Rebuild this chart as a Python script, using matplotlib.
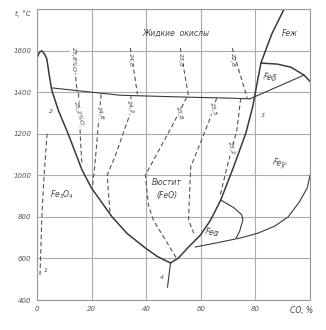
"""Fe-O-CO equilibrium diagram (t vs CO %), redrawn from a scan."""

import matplotlib
matplotlib.use("Agg")
import matplotlib.pyplot as plt

# --- data (x = CO, %, y = t, degC)

# Fe3O4 / FeO boundary, from the melting peak down to the 570 point
left_x = [0.2, 0.9, 1.7, 2.7, 3.6, 4.5, 5.4, 7.8, 11.4, 16.5, 20.0, 27.5, 33.0, 39.7, 44.0, 48.9]
left_t = [1570, 1592, 1599, 1585, 1560, 1480, 1410, 1313, 1200, 1025, 938, 800, 720, 650, 610, 578]

# FeO / Fe boundary, from the 570 point up to the top
right_x = [48.9, 51.8, 55.5, 59.9, 63.6, 67.3, 72.0, 76.5, 79.0, 82.0, 86.0, 90.5]
right_t = [578, 602, 655, 713, 785, 881, 1040, 1203, 1330, 1540, 1680, 1800]

# liquidus of the oxides
liq_x = [5.8, 30.5, 55.0, 71.0, 78.0]
liq_t = [1420, 1385, 1376, 1371, 1368]

# delta-iron field
delta_low_x = [78.0, 97.8]
delta_low_t = [1368, 1482]
delta_top_x = [82.0, 88.0, 93.0, 97.8, 100.0]
delta_top_t = [1540, 1535, 1520, 1482, 1452]

# alpha / gamma line
ag_x = [58.0, 67.0, 75.0, 81.0, 87.0, 92.0, 96.0, 99.0, 100.0]
ag_t = [655, 678, 700, 722, 755, 800, 870, 940, 1000]

# short bulge on the gamma side
bulge_x = [67.3, 72.0, 75.0, 75.4, 74.2, 73.0]
bulge_t = [881, 845, 810, 785, 730, 700]

# stem below the 570 point
stem_x = [48.9, 47.8]
stem_t = [578, 462]

# Fe2O3 / Fe3O4 boundary (dashed)
hem_x = [3.7, 2.6, 1.8, 1.1]
hem_t = [1200, 1000, 808, 520]

# iso-oxygen lines in the liquid
liq_iso_x = [[13.2, 14.7], [34.2, 36.8], [52.5, 55.5], [71.5, 77.0]]
liq_iso_t = [[1612, 1400], [1612, 1390], [1612, 1380], [1612, 1372]]
liq_iso_lab = ["25,8%O", "24,8", "23,8", "22,8"]

# iso-oxygen lines in wustite
w_x = [
    [15.2, 15.5, 16.0, 16.5],
    [23.5, 22.5, 21.2, 20.2],
    [34.4, 34.2, 28.7, 25.7, 26.8],
    [54.8, 50.0, 39.7, 40.8, 42.6, 51.5],
    [65.8, 63.6, 56.3, 55.5, 57.4],
    [74.6, 73.2, 70.0, 67.0],
]
w_t = [
    [1395, 1300, 1150, 1050],
    [1390, 1250, 1050, 935],
    [1380, 1300, 1095, 1000, 808],
    [1375, 1250, 1001, 857, 785, 592],
    [1372, 1280, 1040, 785, 722],
    [1370, 1217, 1060, 900],
]
w_lab = ["25,2%O", "24,8", "24,2", "23,8", "23,5", "23,2"]
w_lab_pos = [(15.3, 1300), (23.0, 1300), (34.3, 1330), (52.0, 1300), (64.5, 1320), (71.0, 1130)]

ticks_x = [0, 20, 40, 60, 80]
ticks_t = [400, 600, 800, 1000, 1200, 1400, 1600]

# --- plot

ink = "#3a3a3a"
fig = plt.figure(figsize=(3.26, 3.30), dpi=100)
ax = fig.add_axes([0.1135, 0.0909, 0.8375, 0.8818])
ax.set_xlim(0, 100)
ax.set_ylim(400, 1800)

# grid
for v in [0, 20, 40, 60, 80, 100]:
    ax.axvline(v, color="#ababab", lw=0.8, zorder=0)
for v in ticks_t + [1800]:
    ax.axhline(v, color="#ababab", lw=0.8, zorder=0)

solid = dict(color=ink, lw=1.1, solid_capstyle="round")
thin = dict(color=ink, lw=0.8)
dash = dict(color="#555555", lw=0.8, ls=(0, (4, 2.5)))

ax.plot(left_x, left_t, **solid)
ax.plot(right_x, right_t, **solid)
ax.plot(liq_x, liq_t, **thin)
ax.plot(delta_low_x, delta_low_t, **thin)
ax.plot(delta_top_x, delta_top_t, **solid)
ax.plot(ag_x, ag_t, **thin)
ax.plot(bulge_x, bulge_t, **thin)
ax.plot(stem_x, stem_t, **thin)
ax.plot(hem_x, hem_t, **dash)

txt = dict(color="#444444", fontsize=4.5, style="italic", family="DejaVu Sans")
lab_bg = dict(facecolor="white", edgecolor="none", pad=0.3)

for xs, ts, lab in zip(liq_iso_x, liq_iso_t, liq_iso_lab):
    ax.plot(xs, ts, **dash)
    ax.text(xs[0], 1555, lab, rotation=-90, ha="center", va="center",
            bbox=lab_bg, **txt)

for xs, ts in zip(w_x, w_t):
    ax.plot(xs, ts, **dash)
for (lx, lt), lab in zip(w_lab_pos, w_lab):
    ax.text(lx, lt, lab, rotation=-75, ha="center", va="center",
            bbox=lab_bg, **txt)

# region names
big = dict(color="#444444", fontsize=5.5, style="italic")
ax.text(51, 1683, "Жидкие  окислы", ha="center", va="center", **big)
ax.text(47.7, 967, "Вюстит", ha="center", va="center", bbox=lab_bg, **big)
ax.text(47.5, 905, "(FeO)", ha="center", va="center", **big)
ax.text(9.0, 905, "Fe$_3$O$_4$", ha="center", va="center", **big)
ax.text(92.7, 1682, "Feж", ha="center", va="center", **big)
ax.text(85.3, 1470, "Feδ", ha="center", va="center", rotation=-10, **big)
ax.text(89.0, 1058, "Feγ", ha="center", va="center", rotation=-15, **big)
ax.text(64.0, 722, "Feα", ha="center", va="center", rotation=-10, **big)

# point numbers
for px, pt, s in [(3.3, 540, "1"), (5.0, 1305, "2"), (82.7, 1289, "3"), (45.9, 510, "4")]:
    ax.text(px, pt, s, ha="center", va="center", **txt)

# decoration
ax.set_xticks(ticks_x)
ax.set_yticks(ticks_t)
ax.set_xticklabels([str(v) for v in ticks_x])
ax.set_yticklabels([str(v) for v in ticks_t])
ax.tick_params(length=0, labelsize=5, labelcolor="#555555", pad=4)
for lab in ax.get_xticklabels() + ax.get_yticklabels():
    lab.set_style("italic")
ax.text(97, 371, "CO, %", ha="center", va="top", fontsize=5.5, style="italic", color="#444444")
ax.text(-2.5, 1780, "t, °C", ha="right", va="center", fontsize=5, style="italic", color="#444444")
for sp in ax.spines.values():
    sp.set_color("#9a9a9a")
    sp.set_linewidth(0.8)

fig.savefig("out.png", dpi=100)
